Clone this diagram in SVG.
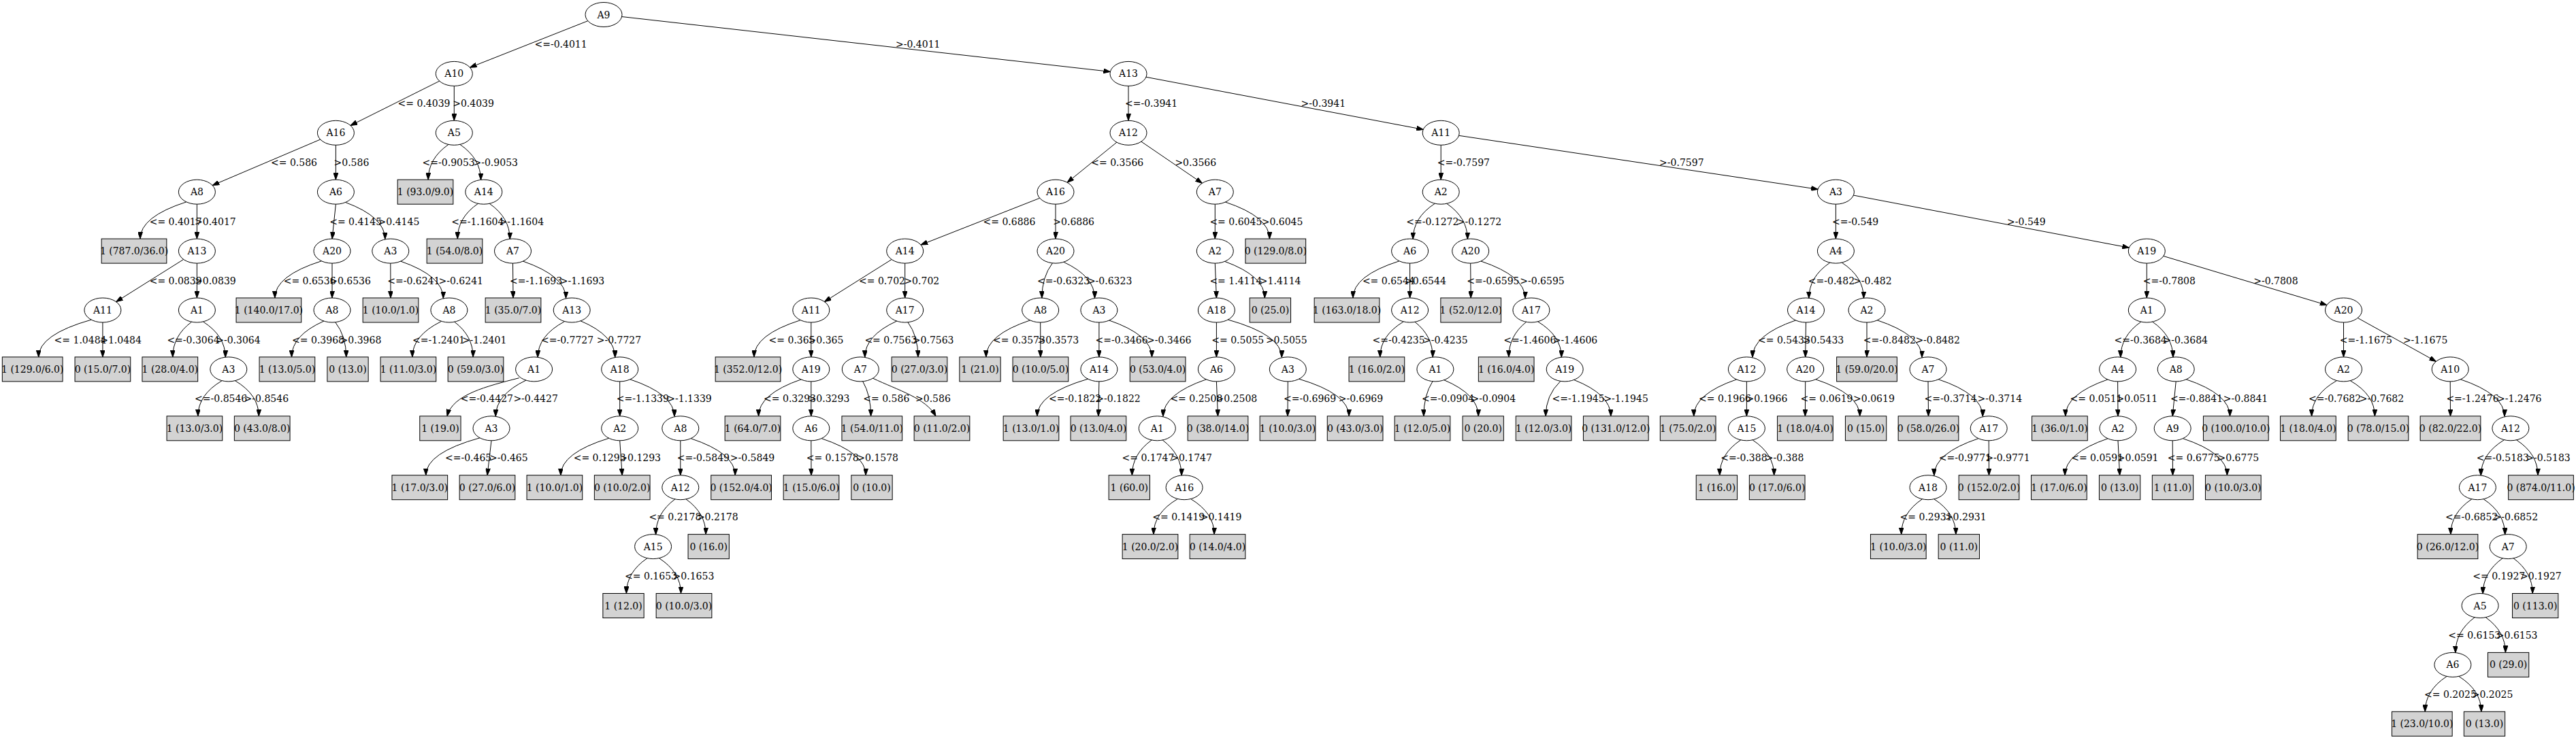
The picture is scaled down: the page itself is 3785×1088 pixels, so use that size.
<svg xmlns="http://www.w3.org/2000/svg" width="3785" height="1088" viewBox="0 0 3785 1088">
<style>
text{font-family:"DejaVu Serif","Liberation Serif",serif;font-size:14px;fill:#000}
.node text{text-anchor:middle}
.el{fill:none;stroke:#000;stroke-width:1}
.box{fill:#d3d3d3;stroke:#000;stroke-width:1}
#edges path{fill:none;stroke:#000;stroke-width:1;marker-end:url(#ah)}
</style>
<defs>
<marker id="ah" markerWidth="10" markerHeight="7" refX="10" refY="3.5" orient="auto" markerUnits="userSpaceOnUse"><path d="M0,0 L10,3.5 L0,7 z" fill="#000" stroke="#000" stroke-width="1"/></marker>
<ellipse id="el" class="el" rx="27" ry="18"/>
<rect id="b4" class="box" x="-30.15" y="-18" width="60.3" height="36"/>
<rect id="b5" class="box" x="-33.65" y="-18" width="67.3" height="36"/>
<rect id="b6" class="box" x="-40.85" y="-18" width="81.7" height="36"/>
<rect id="b7" class="box" x="-44.35" y="-18" width="88.7" height="36"/>
<rect id="b8" class="box" x="-47.85" y="-18" width="95.7" height="36"/>
</defs>
<rect width="3785" height="1088" fill="#fff"/>
<g id="edges">
<g id="e1"><path d="M863.8,30.7 L690.5,99.2"/><text x="785.5" y="70">&lt;=-0.4011</text></g>
<g id="e2"><path d="M913.6,24.5 L1631.4,105.4"/><text x="1316" y="70">&gt;-0.4011</text></g>
<g id="e3"><path d="M645.7,119.2 L515,184.5"/><text x="584.6" y="156.9">&lt;= 0.4039</text></g>
<g id="e4"><path d="M667.3,126.4 L667.3,177.3"/><text x="665.2" y="156.9">&gt;0.4039</text></g>
<g id="e5"><path d="M470.7,205 L312.2,272.5"/><text x="398" y="243.8">&lt;= 0.586</text></g>
<g id="e6"><path d="M493.4,213.3 L493.4,264.2"/><text x="490.5" y="243.8">&gt;0.586</text></g>
<g id="e7"><path d="M273.8,296.9 Q206,318.6 206,351.1"/><text x="219.7" y="330.7">&lt;= 0.4017</text></g>
<g id="e8"><path d="M289.4,300.2 L289.4,351.1"/><text x="286" y="330.7">&gt;0.4017</text></g>
<g id="e9"><path d="M269.7,381.4 L170.6,443.7"/><text x="219.7" y="417.6">&lt;= 0.0839</text></g>
<g id="e10"><path d="M289.4,387.1 L289.4,438"/><text x="286" y="417.6">&gt;0.0839</text></g>
<g id="e11"><path d="M134.1,470.1 Q56.7,492 56.7,524.9"/><text x="79.6" y="504.5">&lt;= 1.0484</text></g>
<g id="e12"><path d="M150.9,474 L150.9,524.9"/><text x="147.2" y="504.5">&gt;1.0484</text></g>
<g id="e13"><path d="M281.6,473.2 Q253.8,493.9 253.8,524.9"/><text x="245.4" y="504.5">&lt;=-0.3064</text></g>
<g id="e14"><path d="M298.5,473 Q331.2,493.9 331.2,525.4"/><text x="317.2" y="504.5">&gt;-0.3064</text></g>
<g id="e15"><path d="M326.2,559.7 Q290.9,580.5 290.9,611.8"/><text x="286.1" y="591.4">&lt;=-0.8546</text></g>
<g id="e16"><path d="M345.4,559.7 Q380.3,580.5 380.3,611.8"/><text x="358.6" y="591.4">&gt;-0.8546</text></g>
<g id="e17"><path d="M493.4,300.2 L488,351.1"/><text x="484.2" y="330.7">&lt;= 0.4145</text></g>
<g id="e18"><path d="M507.6,297.5 Q565.8,319.1 565.8,351.6"/><text x="555.6" y="330.7">&gt;0.4145</text></g>
<g id="e19"><path d="M472.3,383.8 Q403.9,405.5 403.9,438"/><text x="416.7" y="417.6">&lt;= 0.6536</text></g>
<g id="e20"><path d="M488,387.1 L488,438"/><text x="484.2" y="417.6">&gt;0.6536</text></g>
<g id="e21"><path d="M475.8,472.1 Q428.5,493.2 428.5,524.9"/><text x="429.1" y="504.5">&lt;= 0.3968</text></g>
<g id="e22"><path d="M492.7,473.7 Q508.7,494.2 508.7,524.9"/><text x="499.6" y="504.5">&gt;0.3968</text></g>
<g id="e23"><path d="M573.8,387.1 L574,438"/><text x="569.2" y="417.6">&lt;=-0.6241</text></g>
<g id="e24"><path d="M588.7,384.1 Q651.3,405.9 651.3,438.5"/><text x="644.5" y="417.6">&gt;-0.6241</text></g>
<g id="e25"><path d="M648.6,472.4 Q605.9,493.4 605.9,524.9"/><text x="606.1" y="504.5">&lt;=-1.2401</text></g>
<g id="e26"><path d="M667.7,473.2 Q695.1,493.9 695.1,524.9"/><text x="678.9" y="504.5">&gt;-1.2401</text></g>
<g id="e27"><path d="M659,212.4 Q629.2,233.1 629.2,264.2"/><text x="620.6" y="243.8">&lt;=-0.9053</text></g>
<g id="e28"><path d="M675.9,212.4 Q706.5,233.3 706.5,264.7"/><text x="695.5" y="243.8">&gt;-0.9053</text></g>
<g id="e29"><path d="M702.4,299.3 Q672.3,320 672.3,351.1"/><text x="663.2" y="330.7">&lt;=-1.1604</text></g>
<g id="e30"><path d="M719.2,299.3 Q749.2,320.2 749.2,351.6"/><text x="733.6" y="330.7">&gt;-1.1604</text></g>
<g id="e31"><path d="M753.5,387.1 L754,438"/><text x="749" y="417.6">&lt;=-1.1693</text></g>
<g id="e32"><path d="M768.5,384.1 Q831.5,405.9 831.5,438.5"/><text x="822.8" y="417.6">&gt;-1.1693</text></g>
<g id="e33"><path d="M829.6,472.6 Q790.2,493.7 790.2,525.4"/><text x="795" y="504.5">&lt;=-0.7727</text></g>
<g id="e34"><path d="M853,471.8 Q903.7,493.3 903.7,525.5"/><text x="876.7" y="504.5">&gt;-0.7727</text></g>
<g id="e35"><path d="M762.7,555.7 C715,568 665,580 657,611.8"/><text x="676.8" y="591.4">&lt;=-0.4427</text></g>
<g id="e36"><path d="M772.9,559.1 Q728.3,580.4 728.3,612.3"/><text x="754.4" y="591.4">&gt;-0.4427</text></g>
<g id="e37"><path d="M705,643.8 Q625.8,665.8 625.8,698.7"/><text x="654" y="678.3">&lt;=-0.465</text></g>
<g id="e38"><path d="M722,647.8 L716,698.7"/><text x="719.1" y="678.3">&gt;-0.465</text></g>
<g id="e39"><path d="M910.7,560.9 L910.7,611.8"/><text x="905.7" y="591.4">&lt;=-1.1339</text></g>
<g id="e40"><path d="M925.9,557.8 Q990.9,579.6 990.9,612.3"/><text x="980.3" y="591.4">&gt;-1.1339</text></g>
<g id="e41"><path d="M894.7,644.3 Q823.9,666.1 823.9,698.7"/><text x="842.7" y="678.3">&lt;= 0.1293</text></g>
<g id="e42"><path d="M910.7,647.8 L914.2,698.7"/><text x="910.3" y="678.3">&gt;0.1293</text></g>
<g id="e43"><path d="M999.8,647.8 L999.8,698.7"/><text x="994.8" y="678.3">&lt;=-0.5849</text></g>
<g id="e44"><path d="M1015.1,644.7 Q1080.2,666.3 1080.2,698.7"/><text x="1072.8" y="678.3">&gt;-0.5849</text></g>
<g id="e45"><path d="M991.8,733.9 Q963.6,754.8 963.6,786.1"/><text x="953.4" y="765.2">&lt;= 0.2178</text></g>
<g id="e46"><path d="M1008,733.9 Q1037.1,754.6 1037.1,785.6"/><text x="1023.9" y="765.2">&gt;0.2178</text></g>
<g id="e47"><path d="M951,820.7 Q920.4,841.4 920.4,872.5"/><text x="918.1" y="852.1">&lt;= 0.1653</text></g>
<g id="e48"><path d="M968.5,820.7 Q1000.5,841.4 1000.5,872.5"/><text x="988.6" y="852.1">&gt;0.1653</text></g>
<g id="e49"><path d="M1658,126.4 L1658,177.3"/><text x="1653" y="156.9">&lt;=-0.3941</text></g>
<g id="e50"><path d="M1684,113.3 L2091.2,190.4"/><text x="1911.6" y="156.9">&gt;-0.3941</text></g>
<g id="e51"><path d="M1640.9,209.2 L1568.1,268.3"/><text x="1603.3" y="243.8">&lt;= 0.3566</text></g>
<g id="e52"><path d="M1676.9,208.2 L1766.4,269.3"/><text x="1726.4" y="243.8">&gt;0.3566</text></g>
<g id="e53"><path d="M1527.7,291.3 L1353,360"/><text x="1444.5" y="330.7">&lt;= 0.6886</text></g>
<g id="e54"><path d="M1551,300.2 L1551,351.1"/><text x="1547.3" y="330.7">&gt;0.6886</text></g>
<g id="e55"><path d="M1310.1,381.5 L1211.4,443.6"/><text x="1262" y="417.6">&lt;= 0.702</text></g>
<g id="e56"><path d="M1329.7,387.1 L1329.7,438"/><text x="1328.4" y="417.6">&gt;0.702</text></g>
<g id="e57"><path d="M1176.1,470.7 Q1108,492.4 1108,524.9"/><text x="1129.6" y="504.5">&lt;= 0.365</text></g>
<g id="e58"><path d="M1191.8,474 L1191.8,524.9"/><text x="1187.6" y="504.5">&gt;0.365</text></g>
<g id="e59"><path d="M1177,557.9 Q1114.6,579.5 1114.6,611.8"/><text x="1122.1" y="591.4">&lt;= 0.3293</text></g>
<g id="e60"><path d="M1191.8,560.9 L1191.8,611.8"/><text x="1187.6" y="591.4">&gt;0.3293</text></g>
<g id="e61"><path d="M1191.8,647.8 L1192,698.7"/><text x="1184.7" y="678.3">&lt;= 0.1578</text></g>
<g id="e62"><path d="M1207.1,644.7 Q1272.1,666.3 1272.1,698.7"/><text x="1259.3" y="678.3">&gt;0.1578</text></g>
<g id="e63"><path d="M1317.6,472.1 Q1270.8,493.4 1270.8,525.3"/><text x="1270.4" y="504.5">&lt;= 0.7563</text></g>
<g id="e64"><path d="M1334,473.8 Q1348.9,494.2 1348.9,524.9"/><text x="1340.8" y="504.5">&gt;0.7563</text></g>
<g id="e65"><path d="M1267.7,560.7 Q1279.6,581.1 1279.6,611.8"/><text x="1268.3" y="591.4">&lt;= 0.586</text></g>
<g id="e66"><path d="M1282.6,556.2 C1320,574 1360,585 1375,611.8"/><text x="1345" y="591.4">&gt;0.586</text></g>
<g id="e67"><path d="M1546.4,386.8 Q1530.9,407.3 1530.9,438.1"/><text x="1524.1" y="417.6">&lt;=-0.6323</text></g>
<g id="e68"><path d="M1562.9,385.3 Q1608.5,406.5 1608.5,438.4"/><text x="1597.9" y="417.6">&gt;-0.6323</text></g>
<g id="e69"><path d="M1513.5,470.9 Q1448.9,492.5 1448.9,524.9"/><text x="1459" y="504.5">&lt;= 0.3573</text></g>
<g id="e70"><path d="M1528.7,474 L1528.9,524.9"/><text x="1524.5" y="504.5">&gt;0.3573</text></g>
<g id="e71"><path d="M1614.9,474 L1614.9,524.9"/><text x="1609.5" y="504.5">&lt;=-0.3466</text></g>
<g id="e72"><path d="M1629.8,471 Q1692.5,492.6 1692.5,524.9"/><text x="1685" y="504.5">&gt;-0.3466</text></g>
<g id="e73"><path d="M1598.5,557.2 Q1524,579 1524,611.8"/><text x="1541.1" y="591.4">&lt;=-0.1822</text></g>
<g id="e74"><path d="M1614.9,560.9 L1613.9,611.8"/><text x="1610.3" y="591.4">&gt;-0.1822</text></g>
<g id="e75"><path d="M1785.3,300.2 L1785.3,351.1"/><text x="1777.4" y="330.7">&lt;= 0.6045</text></g>
<g id="e76"><path d="M1800.5,297.1 Q1865.4,318.7 1865.4,351.1"/><text x="1853.7" y="330.7">&gt;0.6045</text></g>
<g id="e77"><path d="M1785.3,387.1 L1787.4,438"/><text x="1777.4" y="417.6">&lt;= 1.4114</text></g>
<g id="e78"><path d="M1799.6,384.4 Q1858.3,405.8 1858.3,438"/><text x="1850.8" y="417.6">&gt;1.4114</text></g>
<g id="e79"><path d="M1787.4,474 L1787.4,524.9"/><text x="1780.3" y="504.5">&lt;= 0.5055</text></g>
<g id="e80"><path d="M1804.3,470 Q1883.3,492.2 1883.3,525.5"/><text x="1859.9" y="504.5">&gt;0.5055</text></g>
<g id="e81"><path d="M1772.4,557.8 Q1709,579.6 1709,612.3"/><text x="1719.4" y="591.4">&lt;= 0.2508</text></g>
<g id="e82"><path d="M1787.4,560.9 L1789.5,611.8"/><text x="1786.5" y="591.4">&gt;0.2508</text></g>
<g id="e83"><path d="M1692.2,647 Q1663.4,667.7 1663.4,698.7"/><text x="1648.5" y="678.3">&lt;= 0.1747</text></g>
<g id="e84"><path d="M1708.2,647 Q1736.1,667.9 1736.1,699.2"/><text x="1720.2" y="678.3">&gt;0.1747</text></g>
<g id="e85"><path d="M1730.4,733.5 Q1695,754.3 1695,785.6"/><text x="1693.3" y="765.2">&lt;= 0.1419</text></g>
<g id="e86"><path d="M1749.6,733.5 Q1784.1,754.3 1784.1,785.6"/><text x="1763.7" y="765.2">&gt;0.1419</text></g>
<g id="e87"><path d="M1892.3,560.9 L1892,611.8"/><text x="1886" y="591.4">&lt;=-0.6969</text></g>
<g id="e88"><path d="M1908.6,557.2 Q1982.1,579 1982.1,611.8"/><text x="1966.7" y="591.4">&gt;-0.6969</text></g>
<g id="e89"><path d="M2117.2,213.3 L2117.2,264.2"/><text x="2111.8" y="243.8">&lt;=-0.7597</text></g>
<g id="e90"><path d="M2143.6,199.3 L2671.1,278.3"/><text x="2438.1" y="243.8">&gt;-0.7597</text></g>
<g id="e91"><path d="M2108.2,299.3 Q2076.2,320.2 2076.2,351.6"/><text x="2066.2" y="330.7">&lt;=-0.1272</text></g>
<g id="e92"><path d="M2125.8,299.3 Q2156.3,320.2 2156.3,351.6"/><text x="2140.8" y="330.7">&gt;-0.1272</text></g>
<g id="e93"><path d="M2056,383.8 Q1988,405.5 1988,438"/><text x="2001.9" y="417.6">&lt;= 0.6544</text></g>
<g id="e94"><path d="M2071.6,387.1 L2071.6,438"/><text x="2064.1" y="417.6">&gt;0.6544</text></g>
<g id="e95"><path d="M2062.2,472.9 Q2027.8,493.7 2027.8,524.9"/><text x="2016.5" y="504.5">&lt;=-0.4235</text></g>
<g id="e96"><path d="M2079,473.3 Q2105.2,494 2105.2,525.1"/><text x="2091.1" y="504.5">&gt;-0.4235</text></g>
<g id="e97"><path d="M2105,560.7 Q2091.9,581.1 2091.9,611.8"/><text x="2089" y="591.4">&lt;=-0.0904</text></g>
<g id="e98"><path d="M2121.7,558.7 Q2172.2,579.9 2172.2,611.8"/><text x="2161.6" y="591.4">&gt;-0.0904</text></g>
<g id="e99"><path d="M2160.7,387.1 L2161.2,438"/><text x="2155.3" y="417.6">&lt;=-0.6595</text></g>
<g id="e100"><path d="M2176,384 Q2241,405.8 2241,438.5"/><text x="2233.3" y="417.6">&gt;-0.6595</text></g>
<g id="e101"><path d="M2242.6,473.3 Q2216.9,493.9 2216.9,524.9"/><text x="2209.2" y="504.5">&lt;=-1.4606</text></g>
<g id="e102"><path d="M2259.5,472.8 Q2294.3,493.8 2294.3,525.2"/><text x="2281.8" y="504.5">&gt;-1.4606</text></g>
<g id="e103"><path d="M2292.9,560.4 Q2271.2,581 2271.2,611.8"/><text x="2280.5" y="591.4">&lt;=-1.1945</text></g>
<g id="e104"><path d="M2312.7,558.5 Q2366.8,579.8 2366.8,611.8"/><text x="2356.4" y="591.4">&gt;-1.1945</text></g>
<g id="e105"><path d="M2697.4,300.2 L2697.4,351.1"/><text x="2692" y="330.7">&lt;=-0.549</text></g>
<g id="e106"><path d="M2723.4,287.1 L3128.3,364.2"/><text x="2949.1" y="330.7">&gt;-0.549</text></g>
<g id="e107"><path d="M2688.8,386.2 Q2657.9,407.1 2657.9,438.5"/><text x="2656.8" y="417.6">&lt;=-0.482</text></g>
<g id="e108"><path d="M2706.4,386.2 Q2738.4,407.1 2738.4,438.5"/><text x="2723.1" y="417.6">&gt;-0.482</text></g>
<g id="e109"><path d="M2638.5,470.9 Q2575.1,492.7 2575.1,525.4"/><text x="2583" y="504.5">&lt;= 0.5433</text></g>
<g id="e110"><path d="M2653.5,474 L2652.7,524.9"/><text x="2648.5" y="504.5">&gt;0.5433</text></g>
<g id="e111"><path d="M2551.5,557.9 Q2488.8,579.5 2488.8,611.8"/><text x="2496.1" y="591.4">&lt;= 0.1966</text></g>
<g id="e112"><path d="M2566.4,560.9 L2566.4,611.8"/><text x="2565.6" y="591.4">&gt;0.1966</text></g>
<g id="e113"><path d="M2557.7,646.9 Q2526.8,667.6 2526.8,698.7"/><text x="2528.3" y="678.3">&lt;=-0.388</text></g>
<g id="e114"><path d="M2575.2,646.9 Q2606.7,667.6 2606.7,698.7"/><text x="2593.8" y="678.3">&gt;-0.388</text></g>
<g id="e115"><path d="M2652.7,560.9 L2652.4,611.8"/><text x="2645.6" y="591.4">&lt;= 0.0619</text></g>
<g id="e116"><path d="M2667.9,557.8 Q2732.7,579.4 2732.7,611.8"/><text x="2723.1" y="591.4">&gt;0.0619</text></g>
<g id="e117"><path d="M2743,474 L2743,524.9"/><text x="2737.7" y="504.5">&lt;=-0.8482</text></g>
<g id="e118"><path d="M2758.3,470.8 Q2824,492.7 2824,525.5"/><text x="2814.4" y="504.5">&gt;-0.8482</text></g>
<g id="e119"><path d="M2833,560.9 L2833.5,611.8"/><text x="2827.6" y="591.4">&lt;=-0.3714</text></g>
<g id="e120"><path d="M2848.3,557.8 Q2913.3,579.6 2913.3,612.3"/><text x="2905.6" y="591.4">&gt;-0.3714</text></g>
<g id="e121"><path d="M2907,644.7 Q2841.9,666.5 2841.9,699.2"/><text x="2848.8" y="678.3">&lt;=-0.9771</text></g>
<g id="e122"><path d="M2922.2,647.8 L2922.5,698.7"/><text x="2917.2" y="678.3">&gt;-0.9771</text></g>
<g id="e123"><path d="M2824.4,733.8 Q2793.7,754.5 2793.7,785.6"/><text x="2791.6" y="765.2">&lt;= 0.2931</text></g>
<g id="e124"><path d="M2841.9,733.8 Q2873.8,754.5 2873.8,785.6"/><text x="2857.9" y="765.2">&gt;0.2931</text></g>
<g id="e125"><path d="M3154.3,387.1 L3154.3,438"/><text x="3148.7" y="417.6">&lt;=-0.7808</text></g>
<g id="e126"><path d="M3178.9,376.5 L3418.9,448.6"/><text x="3311.2" y="417.6">&gt;-0.7808</text></g>
<g id="e127"><path d="M3145.9,473.1 Q3115.9,494 3115.9,525.4"/><text x="3106.6" y="504.5">&lt;=-0.3684</text></g>
<g id="e128"><path d="M3162.7,473.1 Q3192.9,494 3192.9,525.4"/><text x="3178.5" y="504.5">&gt;-0.3684</text></g>
<g id="e129"><path d="M3096.8,558 Q3034.9,579.5 3034.9,611.8"/><text x="3041.6" y="591.4">&lt;= 0.0511</text></g>
<g id="e130"><path d="M3111.6,560.9 L3112,611.8"/><text x="3109.5" y="591.4">&gt;0.0511</text></g>
<g id="e131"><path d="M3097.1,644.8 Q3034.1,666.4 3034.1,698.7"/><text x="3043.2" y="678.3">&lt;= 0.0591</text></g>
<g id="e132"><path d="M3112,647.8 L3114.6,698.7"/><text x="3110.8" y="678.3">&gt;0.0591</text></g>
<g id="e133"><path d="M3197.2,560.9 L3192.2,611.8"/><text x="3188.9" y="591.4">&lt;=-0.8841</text></g>
<g id="e134"><path d="M3212.3,557.8 Q3276.5,579.4 3276.5,611.8"/><text x="3266.8" y="591.4">&gt;-0.8841</text></g>
<g id="e135"><path d="M3192.2,647.8 L3192.5,698.7"/><text x="3184.8" y="678.3">&lt;= 0.6775</text></g>
<g id="e136"><path d="M3207.4,644.7 Q3272.4,666.3 3272.4,698.7"/><text x="3258.5" y="678.3">&gt;0.6775</text></g>
<g id="e137"><path d="M3443.5,474 L3443.5,524.9"/><text x="3437.7" y="504.5">&lt;=-1.1675</text></g>
<g id="e138"><path d="M3464.3,467.5 L3579.4,531.4"/><text x="3530.9" y="504.5">&gt;-1.1675</text></g>
<g id="e139"><path d="M3433.5,559.6 Q3396.6,580.5 3396.6,611.8"/><text x="3392" y="591.4">&lt;=-0.7682</text></g>
<g id="e140"><path d="M3453.3,559.7 Q3489.4,580.5 3489.4,611.8"/><text x="3466.7" y="591.4">&gt;-0.7682</text></g>
<g id="e141"><path d="M3600.2,560.9 L3600.5,611.8"/><text x="3594.4" y="591.4">&lt;=-1.2476</text></g>
<g id="e142"><path d="M3615.4,557.8 Q3680,579.6 3680,612.3"/><text x="3669" y="591.4">&gt;-1.2476</text></g>
<g id="e143"><path d="M3679.5,646.7 Q3645.3,667.7 3645.3,699.2"/><text x="3638.7" y="678.3">&lt;=-0.5183</text></g>
<g id="e144"><path d="M3697.7,646.9 Q3729,667.6 3729,698.7"/><text x="3711.3" y="678.3">&gt;-0.5183</text></g>
<g id="e145"><path d="M3631.8,733.8 Q3600.9,754.5 3600.9,785.6"/><text x="3593.1" y="765.2">&lt;=-0.6852</text></g>
<g id="e146"><path d="M3649.2,733.8 Q3680.7,754.7 3680.7,786.1"/><text x="3663.6" y="765.2">&gt;-0.6852</text></g>
<g id="e147"><path d="M3677.1,820.8 Q3648.2,841.7 3648.2,873"/><text x="3633.3" y="852.1">&lt;= 0.1927</text></g>
<g id="e148"><path d="M3693.1,820.8 Q3721.2,841.5 3721.2,872.5"/><text x="3703" y="852.1">&gt;0.1927</text></g>
<g id="e149"><path d="M3636.1,907.7 Q3607.9,928.6 3607.9,959.9"/><text x="3597.3" y="939">&lt;= 0.6153</text></g>
<g id="e150"><path d="M3652.3,907.7 Q3681.4,928.4 3681.4,959.4"/><text x="3667.8" y="939">&gt;0.6153</text></g>
<g id="e151"><path d="M3595,994.5 Q3563.3,1015.2 3563.3,1046.3"/><text x="3562" y="1025.9">&lt;= 0.2025</text></g>
<g id="e152"><path d="M3613,994.5 Q3645.8,1015.2 3645.8,1046.3"/><text x="3631.7" y="1025.9">&gt;0.2025</text></g>
</g>
<g id="nodes">
<g id="n1" class="node" transform="translate(887,21.5)"><use href="#el"/><text y="5">A9</text></g>
<g id="n2" class="node" transform="translate(667.3,108.4)"><use href="#el"/><text y="5">A10</text></g>
<g id="n3" class="node" transform="translate(493.4,195.3)"><use href="#el"/><text y="5">A16</text></g>
<g id="n4" class="node" transform="translate(289.4,282.2)"><use href="#el"/><text y="5">A8</text></g>
<g id="n5" class="node" transform="translate(197,369.1)"><use href="#b8"/><text y="5">1 (787.0/36.0)</text></g>
<g id="n6" class="node" transform="translate(289.4,369.1)"><use href="#el"/><text y="5">A13</text></g>
<g id="n7" class="node" transform="translate(150.9,456)"><use href="#el"/><text y="5">A11</text></g>
<g id="n8" class="node" transform="translate(47.7,542.9)"><use href="#b7"/><text y="5">1 (129.0/6.0)</text></g>
<g id="n9" class="node" transform="translate(150.9,542.9)"><use href="#b6"/><text y="5">0 (15.0/7.0)</text></g>
<g id="n10" class="node" transform="translate(289.4,456)"><use href="#el"/><text y="5">A1</text></g>
<g id="n11" class="node" transform="translate(249.8,542.9)"><use href="#b6"/><text y="5">1 (28.0/4.0)</text></g>
<g id="n12" class="node" transform="translate(335.8,542.9)"><use href="#el"/><text y="5">A3</text></g>
<g id="n13" class="node" transform="translate(285.9,629.8)"><use href="#b6"/><text y="5">1 (13.0/3.0)</text></g>
<g id="n14" class="node" transform="translate(385.2,629.8)"><use href="#b6"/><text y="5">0 (43.0/8.0)</text></g>
<g id="n15" class="node" transform="translate(493.4,282.2)"><use href="#el"/><text y="5">A6</text></g>
<g id="n16" class="node" transform="translate(488,369.1)"><use href="#el"/><text y="5">A20</text></g>
<g id="n17" class="node" transform="translate(394.9,456)"><use href="#b8"/><text y="5">1 (140.0/17.0)</text></g>
<g id="n18" class="node" transform="translate(488,456)"><use href="#el"/><text y="5">A8</text></g>
<g id="n19" class="node" transform="translate(421.9,542.9)"><use href="#b6"/><text y="5">1 (13.0/5.0)</text></g>
<g id="n20" class="node" transform="translate(511,542.9)"><use href="#b4"/><text y="5">0 (13.0)</text></g>
<g id="n21" class="node" transform="translate(573.8,369.1)"><use href="#el"/><text y="5">A3</text></g>
<g id="n22" class="node" transform="translate(574,456)"><use href="#b6"/><text y="5">1 (10.0/1.0)</text></g>
<g id="n23" class="node" transform="translate(659.9,456)"><use href="#el"/><text y="5">A8</text></g>
<g id="n24" class="node" transform="translate(599.9,542.9)"><use href="#b6"/><text y="5">1 (11.0/3.0)</text></g>
<g id="n25" class="node" transform="translate(699,542.9)"><use href="#b6"/><text y="5">0 (59.0/3.0)</text></g>
<g id="n26" class="node" transform="translate(667.3,195.3)"><use href="#el"/><text y="5">A5</text></g>
<g id="n27" class="node" transform="translate(625,282.2)"><use href="#b6"/><text y="5">1 (93.0/9.0)</text></g>
<g id="n28" class="node" transform="translate(710.8,282.2)"><use href="#el"/><text y="5">A14</text></g>
<g id="n29" class="node" transform="translate(668,369.1)"><use href="#b6"/><text y="5">1 (54.0/8.0)</text></g>
<g id="n30" class="node" transform="translate(753.5,369.1)"><use href="#el"/><text y="5">A7</text></g>
<g id="n31" class="node" transform="translate(754,456)"><use href="#b6"/><text y="5">1 (35.0/7.0)</text></g>
<g id="n32" class="node" transform="translate(840.2,456)"><use href="#el"/><text y="5">A13</text></g>
<g id="n33" class="node" transform="translate(784.6,542.9)"><use href="#el"/><text y="5">A1</text></g>
<g id="n34" class="node" transform="translate(646.9,629.8)"><use href="#b4"/><text y="5">1 (19.0)</text></g>
<g id="n35" class="node" transform="translate(722,629.8)"><use href="#el"/><text y="5">A3</text></g>
<g id="n36" class="node" transform="translate(616.8,716.7)"><use href="#b6"/><text y="5">1 (17.0/3.0)</text></g>
<g id="n37" class="node" transform="translate(716,716.7)"><use href="#b6"/><text y="5">0 (27.0/6.0)</text></g>
<g id="n38" class="node" transform="translate(910.7,542.9)"><use href="#el"/><text y="5">A18</text></g>
<g id="n39" class="node" transform="translate(910.7,629.8)"><use href="#el"/><text y="5">A2</text></g>
<g id="n40" class="node" transform="translate(814.9,716.7)"><use href="#b6"/><text y="5">1 (10.0/1.0)</text></g>
<g id="n41" class="node" transform="translate(914.2,716.7)"><use href="#b6"/><text y="5">0 (10.0/2.0)</text></g>
<g id="n42" class="node" transform="translate(999.8,629.8)"><use href="#el"/><text y="5">A8</text></g>
<g id="n43" class="node" transform="translate(999.8,716.7)"><use href="#el"/><text y="5">A12</text></g>
<g id="n44" class="node" transform="translate(959.6,803.6)"><use href="#el"/><text y="5">A15</text></g>
<g id="n45" class="node" transform="translate(916,890.5)"><use href="#b4"/><text y="5">1 (12.0)</text></g>
<g id="n46" class="node" transform="translate(1005,890.5)"><use href="#b6"/><text y="5">0 (10.0/3.0)</text></g>
<g id="n47" class="node" transform="translate(1041.2,803.6)"><use href="#b4"/><text y="5">0 (16.0)</text></g>
<g id="n48" class="node" transform="translate(1089.1,716.7)"><use href="#b7"/><text y="5">0 (152.0/4.0)</text></g>
<g id="n49" class="node" transform="translate(1658,108.4)"><use href="#el"/><text y="5">A13</text></g>
<g id="n50" class="node" transform="translate(1658,195.3)"><use href="#el"/><text y="5">A12</text></g>
<g id="n51" class="node" transform="translate(1551,282.2)"><use href="#el"/><text y="5">A16</text></g>
<g id="n52" class="node" transform="translate(1329.7,369.1)"><use href="#el"/><text y="5">A14</text></g>
<g id="n53" class="node" transform="translate(1191.8,456)"><use href="#el"/><text y="5">A11</text></g>
<g id="n54" class="node" transform="translate(1099,542.9)"><use href="#b8"/><text y="5">1 (352.0/12.0)</text></g>
<g id="n55" class="node" transform="translate(1191.8,542.9)"><use href="#el"/><text y="5">A19</text></g>
<g id="n56" class="node" transform="translate(1106,629.8)"><use href="#b6"/><text y="5">1 (64.0/7.0)</text></g>
<g id="n57" class="node" transform="translate(1191.8,629.8)"><use href="#el"/><text y="5">A6</text></g>
<g id="n58" class="node" transform="translate(1192,716.7)"><use href="#b6"/><text y="5">1 (15.0/6.0)</text></g>
<g id="n59" class="node" transform="translate(1281,716.7)"><use href="#b4"/><text y="5">0 (10.0)</text></g>
<g id="n60" class="node" transform="translate(1329.7,456)"><use href="#el"/><text y="5">A17</text></g>
<g id="n61" class="node" transform="translate(1264.3,542.9)"><use href="#el"/><text y="5">A7</text></g>
<g id="n62" class="node" transform="translate(1281.3,629.8)"><use href="#b7"/><text y="5">1 (54.0/11.0)</text></g>
<g id="n63" class="node" transform="translate(1384,629.8)"><use href="#b6"/><text y="5">0 (11.0/2.0)</text></g>
<g id="n64" class="node" transform="translate(1351,542.9)"><use href="#b6"/><text y="5">0 (27.0/3.0)</text></g>
<g id="n65" class="node" transform="translate(1551,369.1)"><use href="#el"/><text y="5">A20</text></g>
<g id="n66" class="node" transform="translate(1528.7,456)"><use href="#el"/><text y="5">A8</text></g>
<g id="n67" class="node" transform="translate(1440,542.9)"><use href="#b4"/><text y="5">1 (21.0)</text></g>
<g id="n68" class="node" transform="translate(1528.9,542.9)"><use href="#b6"/><text y="5">0 (10.0/5.0)</text></g>
<g id="n69" class="node" transform="translate(1614.9,456)"><use href="#el"/><text y="5">A3</text></g>
<g id="n70" class="node" transform="translate(1614.9,542.9)"><use href="#el"/><text y="5">A14</text></g>
<g id="n71" class="node" transform="translate(1515,629.8)"><use href="#b6"/><text y="5">1 (13.0/1.0)</text></g>
<g id="n72" class="node" transform="translate(1613.9,629.8)"><use href="#b6"/><text y="5">0 (13.0/4.0)</text></g>
<g id="n73" class="node" transform="translate(1701.1,542.9)"><use href="#b6"/><text y="5">0 (53.0/4.0)</text></g>
<g id="n74" class="node" transform="translate(1785.3,282.2)"><use href="#el"/><text y="5">A7</text></g>
<g id="n75" class="node" transform="translate(1785.3,369.1)"><use href="#el"/><text y="5">A2</text></g>
<g id="n76" class="node" transform="translate(1787.4,456)"><use href="#el"/><text y="5">A18</text></g>
<g id="n77" class="node" transform="translate(1787.4,542.9)"><use href="#el"/><text y="5">A6</text></g>
<g id="n78" class="node" transform="translate(1700.3,629.8)"><use href="#el"/><text y="5">A1</text></g>
<g id="n79" class="node" transform="translate(1659.3,716.7)"><use href="#b4"/><text y="5">1 (60.0)</text></g>
<g id="n80" class="node" transform="translate(1740.1,716.7)"><use href="#el"/><text y="5">A16</text></g>
<g id="n81" class="node" transform="translate(1690,803.6)"><use href="#b6"/><text y="5">1 (20.0/2.0)</text></g>
<g id="n82" class="node" transform="translate(1789,803.6)"><use href="#b6"/><text y="5">0 (14.0/4.0)</text></g>
<g id="n83" class="node" transform="translate(1789.5,629.8)"><use href="#b7"/><text y="5">0 (38.0/14.0)</text></g>
<g id="n84" class="node" transform="translate(1892.3,542.9)"><use href="#el"/><text y="5">A3</text></g>
<g id="n85" class="node" transform="translate(1892,629.8)"><use href="#b6"/><text y="5">1 (10.0/3.0)</text></g>
<g id="n86" class="node" transform="translate(1991.1,629.8)"><use href="#b6"/><text y="5">0 (43.0/3.0)</text></g>
<g id="n87" class="node" transform="translate(1866.4,456)"><use href="#b4"/><text y="5">0 (25.0)</text></g>
<g id="n88" class="node" transform="translate(1874.3,369.1)"><use href="#b7"/><text y="5">0 (129.0/8.0)</text></g>
<g id="n89" class="node" transform="translate(2117.2,195.3)"><use href="#el"/><text y="5">A11</text></g>
<g id="n90" class="node" transform="translate(2117.2,282.2)"><use href="#el"/><text y="5">A2</text></g>
<g id="n91" class="node" transform="translate(2071.6,369.1)"><use href="#el"/><text y="5">A6</text></g>
<g id="n92" class="node" transform="translate(1979,456)"><use href="#b8"/><text y="5">1 (163.0/18.0)</text></g>
<g id="n93" class="node" transform="translate(2071.6,456)"><use href="#el"/><text y="5">A12</text></g>
<g id="n94" class="node" transform="translate(2022.9,542.9)"><use href="#b6"/><text y="5">1 (16.0/2.0)</text></g>
<g id="n95" class="node" transform="translate(2108.9,542.9)"><use href="#el"/><text y="5">A1</text></g>
<g id="n96" class="node" transform="translate(2090,629.8)"><use href="#b6"/><text y="5">1 (12.0/5.0)</text></g>
<g id="n97" class="node" transform="translate(2179.2,629.8)"><use href="#b4"/><text y="5">0 (20.0)</text></g>
<g id="n98" class="node" transform="translate(2160.7,369.1)"><use href="#el"/><text y="5">A20</text></g>
<g id="n99" class="node" transform="translate(2161.2,456)"><use href="#b7"/><text y="5">1 (52.0/12.0)</text></g>
<g id="n100" class="node" transform="translate(2249.9,456)"><use href="#el"/><text y="5">A17</text></g>
<g id="n101" class="node" transform="translate(2213.2,542.9)"><use href="#b6"/><text y="5">1 (16.0/4.0)</text></g>
<g id="n102" class="node" transform="translate(2299.2,542.9)"><use href="#el"/><text y="5">A19</text></g>
<g id="n103" class="node" transform="translate(2268.1,629.8)"><use href="#b6"/><text y="5">1 (12.0/3.0)</text></g>
<g id="n104" class="node" transform="translate(2374.3,629.8)"><use href="#b8"/><text y="5">0 (131.0/12.0)</text></g>
<g id="n105" class="node" transform="translate(2697.4,282.2)"><use href="#el"/><text y="5">A3</text></g>
<g id="n106" class="node" transform="translate(2697.4,369.1)"><use href="#el"/><text y="5">A4</text></g>
<g id="n107" class="node" transform="translate(2653.5,456)"><use href="#el"/><text y="5">A14</text></g>
<g id="n108" class="node" transform="translate(2566.4,542.9)"><use href="#el"/><text y="5">A12</text></g>
<g id="n109" class="node" transform="translate(2480.2,629.8)"><use href="#b6"/><text y="5">1 (75.0/2.0)</text></g>
<g id="n110" class="node" transform="translate(2566.4,629.8)"><use href="#el"/><text y="5">A15</text></g>
<g id="n111" class="node" transform="translate(2522.4,716.7)"><use href="#b4"/><text y="5">1 (16.0)</text></g>
<g id="n112" class="node" transform="translate(2611.2,716.7)"><use href="#b6"/><text y="5">0 (17.0/6.0)</text></g>
<g id="n113" class="node" transform="translate(2652.7,542.9)"><use href="#el"/><text y="5">A20</text></g>
<g id="n114" class="node" transform="translate(2652.4,629.8)"><use href="#b6"/><text y="5">1 (18.0/4.0)</text></g>
<g id="n115" class="node" transform="translate(2741.6,629.8)"><use href="#b4"/><text y="5">0 (15.0)</text></g>
<g id="n116" class="node" transform="translate(2743,456)"><use href="#el"/><text y="5">A2</text></g>
<g id="n117" class="node" transform="translate(2743,542.9)"><use href="#b7"/><text y="5">1 (59.0/20.0)</text></g>
<g id="n118" class="node" transform="translate(2833,542.9)"><use href="#el"/><text y="5">A7</text></g>
<g id="n119" class="node" transform="translate(2833.5,629.8)"><use href="#b7"/><text y="5">0 (58.0/26.0)</text></g>
<g id="n120" class="node" transform="translate(2922.2,629.8)"><use href="#el"/><text y="5">A17</text></g>
<g id="n121" class="node" transform="translate(2833,716.7)"><use href="#el"/><text y="5">A18</text></g>
<g id="n122" class="node" transform="translate(2789.3,803.6)"><use href="#b6"/><text y="5">1 (10.0/3.0)</text></g>
<g id="n123" class="node" transform="translate(2878.3,803.6)"><use href="#b4"/><text y="5">0 (11.0)</text></g>
<g id="n124" class="node" transform="translate(2922.5,716.7)"><use href="#b7"/><text y="5">0 (152.0/2.0)</text></g>
<g id="n125" class="node" transform="translate(3154.3,369.1)"><use href="#el"/><text y="5">A19</text></g>
<g id="n126" class="node" transform="translate(3154.3,456)"><use href="#el"/><text y="5">A1</text></g>
<g id="n127" class="node" transform="translate(3111.6,542.9)"><use href="#el"/><text y="5">A4</text></g>
<g id="n128" class="node" transform="translate(3026.4,629.8)"><use href="#b6"/><text y="5">1 (36.0/1.0)</text></g>
<g id="n129" class="node" transform="translate(3112,629.8)"><use href="#el"/><text y="5">A2</text></g>
<g id="n130" class="node" transform="translate(3025.4,716.7)"><use href="#b6"/><text y="5">1 (17.0/6.0)</text></g>
<g id="n131" class="node" transform="translate(3114.6,716.7)"><use href="#b4"/><text y="5">0 (13.0)</text></g>
<g id="n132" class="node" transform="translate(3197.2,542.9)"><use href="#el"/><text y="5">A8</text></g>
<g id="n133" class="node" transform="translate(3192.2,629.8)"><use href="#el"/><text y="5">A9</text></g>
<g id="n134" class="node" transform="translate(3192.5,716.7)"><use href="#b4"/><text y="5">1 (11.0)</text></g>
<g id="n135" class="node" transform="translate(3281.3,716.7)"><use href="#b6"/><text y="5">0 (10.0/3.0)</text></g>
<g id="n136" class="node" transform="translate(3285.3,629.8)"><use href="#b8"/><text y="5">0 (100.0/10.0)</text></g>
<g id="n137" class="node" transform="translate(3443.5,456)"><use href="#el"/><text y="5">A20</text></g>
<g id="n138" class="node" transform="translate(3443.5,542.9)"><use href="#el"/><text y="5">A2</text></g>
<g id="n139" class="node" transform="translate(3391.4,629.8)"><use href="#b6"/><text y="5">1 (18.0/4.0)</text></g>
<g id="n140" class="node" transform="translate(3494.5,629.8)"><use href="#b7"/><text y="5">0 (78.0/15.0)</text></g>
<g id="n141" class="node" transform="translate(3600.2,542.9)"><use href="#el"/><text y="5">A10</text></g>
<g id="n142" class="node" transform="translate(3600.5,629.8)"><use href="#b7"/><text y="5">0 (82.0/22.0)</text></g>
<g id="n143" class="node" transform="translate(3688.9,629.8)"><use href="#el"/><text y="5">A12</text></g>
<g id="n144" class="node" transform="translate(3640.4,716.7)"><use href="#el"/><text y="5">A17</text></g>
<g id="n145" class="node" transform="translate(3596.5,803.6)"><use href="#b7"/><text y="5">0 (26.0/12.0)</text></g>
<g id="n146" class="node" transform="translate(3685.2,803.6)"><use href="#el"/><text y="5">A7</text></g>
<g id="n147" class="node" transform="translate(3644.1,890.5)"><use href="#el"/><text y="5">A5</text></g>
<g id="n148" class="node" transform="translate(3603.9,977.4)"><use href="#el"/><text y="5">A6</text></g>
<g id="n149" class="node" transform="translate(3558.8,1064.3)"><use href="#b7"/><text y="5">1 (23.0/10.0)</text></g>
<g id="n150" class="node" transform="translate(3650.5,1064.3)"><use href="#b4"/><text y="5">0 (13.0)</text></g>
<g id="n151" class="node" transform="translate(3685.6,977.4)"><use href="#b4"/><text y="5">0 (29.0)</text></g>
<g id="n152" class="node" transform="translate(3725.2,890.5)"><use href="#b5"/><text y="5">0 (113.0)</text></g>
<g id="n153" class="node" transform="translate(3733.5,716.7)"><use href="#b8"/><text y="5">0 (874.0/11.0)</text></g>
</g>
</svg>
